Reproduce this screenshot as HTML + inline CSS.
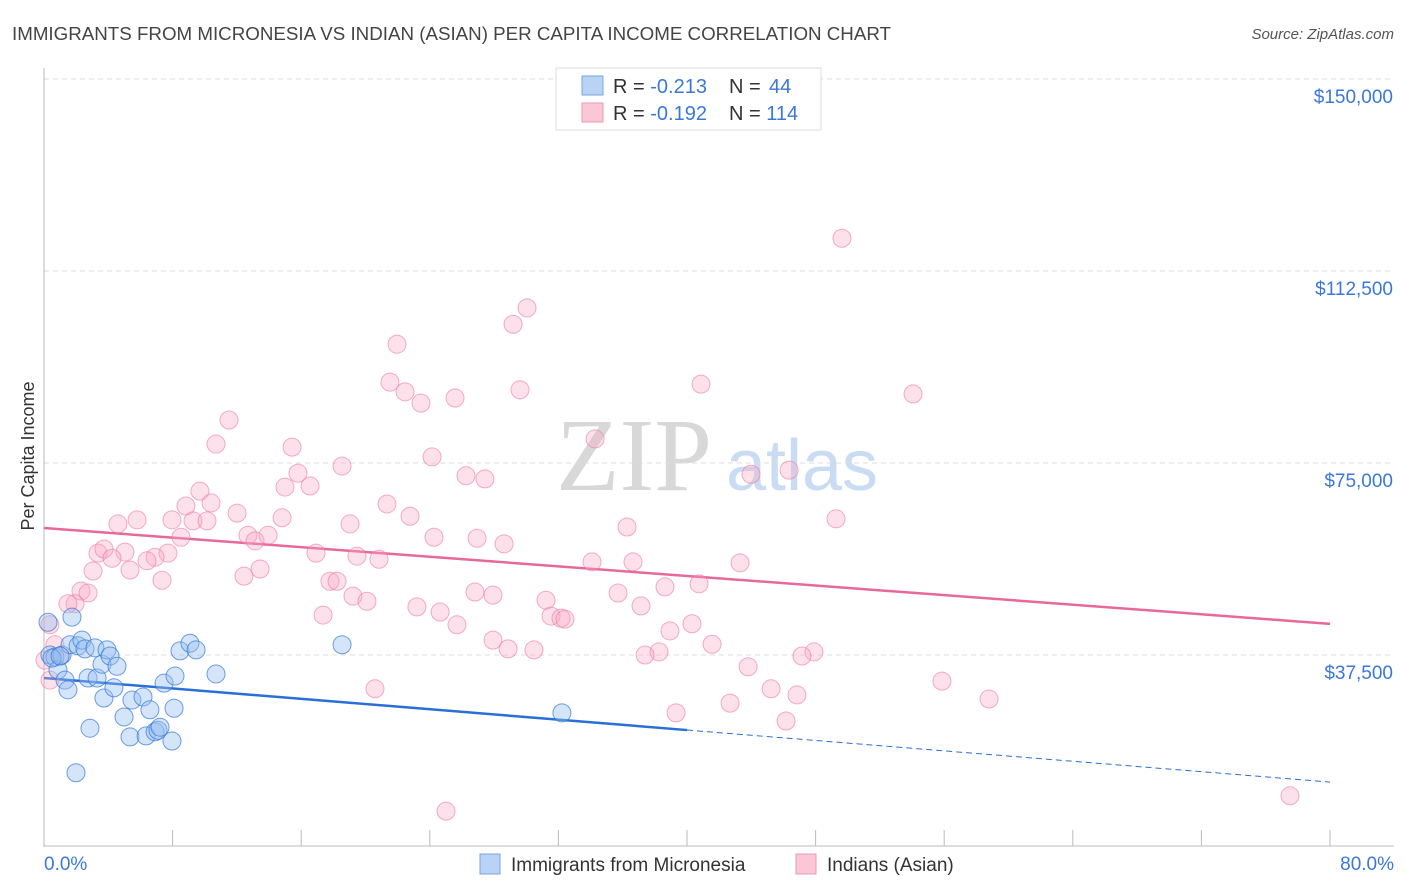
<!DOCTYPE html>
<html><head><meta charset="utf-8"><style>
body{margin:0;background:#fff;font-family:"Liberation Sans",sans-serif;}
svg{display:block}
</style></head><body>
<svg id="chart" width="1406" height="892">
<text x="12" y="40" font-size="18" fill="#444" textLength="879" lengthAdjust="spacingAndGlyphs">IMMIGRANTS FROM MICRONESIA VS INDIAN (ASIAN) PER CAPITA INCOME CORRELATION CHART</text>
<text x="1394" y="39" font-size="15" fill="#555" font-style="italic" text-anchor="end">Source: ZipAtlas.com</text>
<text transform="translate(34,456) rotate(-90)" font-size="18" fill="#333" text-anchor="middle">Per Capita Income</text>
<g>
<text x="634" y="490" font-size="104" font-family="Liberation Serif,serif" fill="#d8d8d8" text-anchor="middle">ZIP</text>
<text x="802" y="490" font-size="72" fill="#c9dcf3" text-anchor="middle">atlas</text>
</g>
<g id="grid"></g><g id="axes"></g><g id="lines"></g><g id="pts"></g>
<g>
<rect x="556" y="68" width="265" height="62" fill="#fff" stroke="#ddd"/>
<rect x="582" y="76" width="21" height="19" fill="#b8d3f5" stroke="#7aa6e0"/>
<rect x="582" y="103" width="21" height="19" fill="#fbc7d6" stroke="#ee97b2"/>
<text x="613" y="93" font-size="20" fill="#333">R = <tspan fill="#3b78d8">-0.213</tspan><tspan x="729">N = </tspan><tspan fill="#3b78d8" x="769">44</tspan></text>
<text x="613" y="120" font-size="20" fill="#333">R = <tspan fill="#3b78d8">-0.192</tspan><tspan x="729">N = </tspan><tspan fill="#3b78d8">114</tspan></text>
</g>
<g>
<rect x="480" y="854" width="20" height="20" fill="#b8d3f5" stroke="#7aa6e0"/>
<text x="511" y="871" font-size="19" fill="#333">Immigrants from Micronesia</text>
<rect x="796" y="854" width="20" height="20" fill="#fbc7d6" stroke="#ee97b2"/>
<text x="827" y="871" font-size="19" fill="#333">Indians (Asian)</text>
</g>
</svg>
<script>
const yTicks=[37500,75000,112500,150000];
const yTickLabels=["$37,500","$75,000","$112,500","$150,000"];
const xLabels=["0.0%","80.0%"];
const blueX=[0.37,0.68,0.87,1.12,1.31,1.49,1.62,1.74,1.99,2.12,2.36,2.55,2.74,2.86,3.17,3.30,3.61,3.73,3.92,4.11,4.35,4.54,4.98,5.35,5.47,6.16,6.35,6.59,6.91,7.09,7.22,7.47,7.96,8.09,8.15,8.46,9.08,9.46,10.70,18.54,32.22,0.25,0.50,1.00];
const blueY=[37.5,37.1,34.6,37.5,32.6,30.7,39.5,44.9,14.5,39.3,40.4,38.7,33.0,23.2,38.9,33.0,35.7,29.1,38.5,37.3,31.1,35.3,25.4,21.5,28.7,29.3,21.7,26.8,22.5,22.8,23.4,32.0,20.7,27.1,33.4,38.3,39.8,38.5,33.8,39.5,26.2,43.9,36.9,37.3];
const pinkX=[49.64,30.05,29.18,21.96,21.52,22.46,23.45,25.57,29.61,40.87,54.06,11.51,10.70,15.43,24.14,18.54,15.80,26.25,27.43,34.28,43.98,46.35,9.70,16.55,14.99,8.83,10.39,12.01,7.96,5.79,4.60,9.27,10.14,14.81,21.34,22.77,19.04,36.27,49.27,8.52,12.69,13.13,13.94,24.26,26.94,28.62,3.36,5.04,7.71,6.91,3.73,6.41,4.23,5.35,3.05,16.92,19.47,20.84,34.09,36.64,43.30,12.44,13.44,7.34,17.79,18.23,38.63,40.75,2.30,2.74,1.93,1.49,19.22,20.09,26.81,27.93,31.23,35.71,37.14,23.20,24.64,17.36,31.54,32.16,32.41,25.69,40.31,38.94,27.93,28.87,30.48,41.56,38.26,37.39,47.90,47.15,0.37,0.68,1.00,0.06,43.80,20.59,45.23,46.84,42.68,55.86,58.79,39.32,46.16,25.01,77.51,0.37];
const pinkY=[118.9,105.3,102.1,98.2,90.8,88.9,86.7,87.7,89.3,90.4,88.5,83.4,78.7,78.1,76.2,74.4,73.0,72.5,71.9,79.7,72.8,73.6,69.5,70.5,70.3,66.6,67.2,65.2,63.9,63.9,63.1,63.7,63.7,64.3,67.0,64.6,63.1,62.5,64.1,60.5,60.9,59.8,60.9,60.5,60.3,59.2,57.4,57.6,57.4,56.6,58.2,55.9,56.4,54.1,53.9,57.4,56.8,56.2,55.7,55.7,55.5,52.9,54.3,52.1,51.9,51.9,50.8,51.4,50.0,49.6,47.5,47.5,49.0,48.0,49.8,49.2,48.2,49.6,47.1,46.9,45.9,45.3,45.1,44.7,44.5,43.4,43.6,42.2,40.4,38.7,38.5,39.6,38.1,37.5,38.1,37.3,43.4,39.5,37.3,36.5,35.2,30.9,30.9,29.7,28.1,32.4,28.9,26.2,24.6,7.0,10.0,32.6];
const blueFit=[33.0,-0.254];
const pinkFit=[62.3,-0.234];
const sx=v=>44+v/80*1286;
const sy=v=>847-v*1000/37500*192;
const NS="http://www.w3.org/2000/svg";
function mk(parent,tag,attrs){const e=document.createElementNS(NS,tag);for(const k in attrs)e.setAttribute(k,attrs[k]);document.getElementById(parent).appendChild(e);return e;}
yTicks.forEach((t,i)=>{
 const g=mk('grid','line',{x1:44,x2:1394,y1:sy(t/1000),y2:sy(t/1000),stroke:'#ddd','stroke-dasharray':'5,4'});
 
 
 const l=mk('axes','text',{x:1393,y:sy(t/1000)+24,'font-size':19,fill:'#3b78d8','text-anchor':'end'});
 l.textContent=yTickLabels[i];
 
 
});
const ax=mk('axes','line',{x1:44,x2:44,y1:68,y2:847,stroke:'#bbb'});


const bx=mk('axes','line',{x1:44,x2:1394,y1:846,y2:846,stroke:'#bbb'});


for(let i=0;i<=10;i++){
 const t=mk('axes','line',{x1:sx(i*8),x2:sx(i*8),y1:830,y2:846,stroke:'#bbb'});
 
 
}
[[0,'start',44],[80,'end',1394]].forEach((d,i)=>{
 const t=mk('axes','text',{x:d[2],y:870,'font-size':19,fill:'#3b78d8','text-anchor':d[1]});
 t.textContent=xLabels[i];
 
 
});
function fy(f,x){return f[0]+f[1]*x;}
let l1=mk('lines','line',{x1:sx(0),y1:sy(fy(blueFit,0)),x2:sx(40),y2:sy(fy(blueFit,40)),stroke:'#2a6fd6','stroke-width':2.5});


let l2=mk('lines','line',{x1:sx(40),y1:sy(fy(blueFit,40)),x2:sx(80),y2:sy(fy(blueFit,80)),stroke:'#2a6fd6','stroke-width':1,'stroke-dasharray':'6,4'});


let l3=mk('lines','line',{x1:sx(0),y1:sy(fy(pinkFit,0)),x2:sx(80),y2:sy(fy(pinkFit,80)),stroke:'#e8689a','stroke-width':2.5});


pinkX.forEach((x,i)=>{
 const c=mk('pts','circle',{cx:sx(x),cy:sy(pinkY[i]),r:9,fill:'rgba(248,170,195,0.35)',stroke:'rgba(235,120,160,0.6)','stroke-width':1});
 
 
});
blueX.forEach((x,i)=>{
 const c=mk('pts','circle',{cx:sx(x),cy:sy(blueY[i]),r:9,fill:'rgba(150,190,240,0.4)',stroke:'rgba(50,120,215,0.7)','stroke-width':1});
 
 
});
</script>
</body></html>
